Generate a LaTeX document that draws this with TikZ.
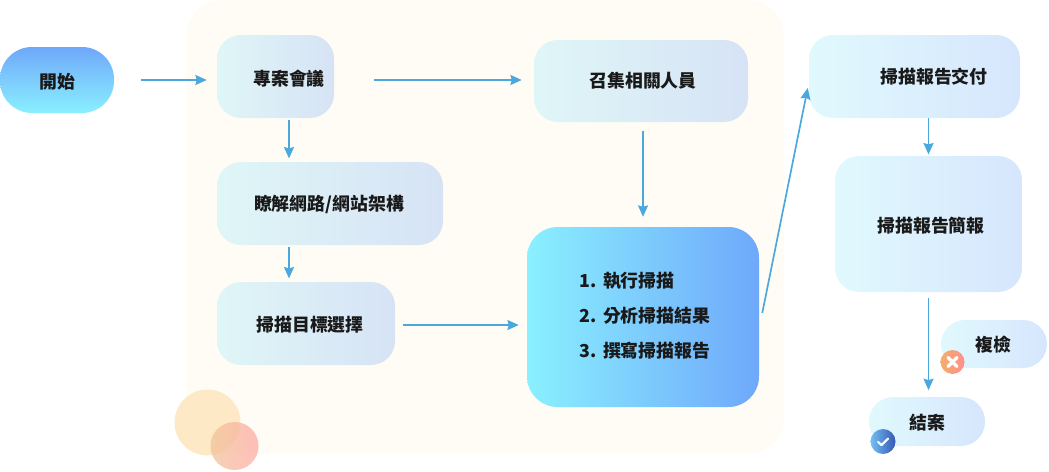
\documentclass[tikz,border=0pt]{standalone}
\usepackage{fontspec}
\setmainfont{Noto Sans CJK TC}
\usetikzlibrary{arrows.meta}
\definecolor{flowblue}{HTML}{4AA8DC}
\definecolor{panelcream}{HTML}{FFFCF5}
\definecolor{paleteal}{HTML}{DFF6F7}
\definecolor{paleslate}{HTML}{D6E3F5}
\definecolor{icecyan}{HTML}{E0F9FD}
\definecolor{iceblue}{HTML}{D6E6FD}
\definecolor{brightcyan}{HTML}{8AF0FF}
\definecolor{brightblue}{HTML}{6FA8FA}
\definecolor{discsand}{HTML}{FDE9C6}
\definecolor{discpeach}{HTML}{F0C49A}
\definecolor{discrose}{HTML}{FFA9A3}
\definecolor{crossorange}{HTML}{F4AE6C}
\definecolor{crosspink}{HTML}{FF8F8C}
\definecolor{checksky}{HTML}{72C0F4}
\definecolor{checknavy}{HTML}{3557B2}
\tikzset{
  boxsize/.style 2 args={minimum width=#1*0.75pt,minimum height=#2*0.75pt},
  softbox/.style={inner sep=0pt,rounded corners=18pt,left color=paleteal,right color=paleslate},
  icebox/.style={inner sep=0pt,rounded corners=18pt,left color=icecyan,right color=iceblue},
  boxtext/.style={font=\bfseries\fontsize{13.4}{15}\selectfont,text=black!90,inner sep=0pt},
  flow/.style={->,flowblue,line width=1.25pt},
}
\begin{document}
\begin{tikzpicture}[x=0.75pt,y=-0.75pt,>={Stealth[length=8.5pt,width=7.5pt,inset=1pt]}]
  \useasboundingbox (0,0) rectangle (1049,471);
  % cream panel and the two discs at its corner
  \fill[panelcream,rounded corners=27pt] (186,0) rectangle (784,454);
  \fill[discsand] (207.5,422.5) circle (33);
  \shade[left color=discpeach,right color=discrose,opacity=0.75] (234.5,446) circle (24);
  % boxes
  \node[inner sep=0pt,boxsize={114}{66},rounded corners=24pt,top color=brightblue,bottom color=brightcyan] (start) at (57,80) {};
  \node[softbox,boxsize={117}{83}] (meeting) at (275.5,76.5) {};
  \node[softbox,boxsize={214}{82}] (gather) at (641,81) {};
  \node[softbox,boxsize={226}{83}] (understand) at (330,203.5) {};
  \node[softbox,boxsize={178}{83}] (target) at (306,323.5) {};
  \node[inner sep=0pt,boxsize={232}{180},rounded corners=23pt,left color=brightcyan,right color=brightblue] (scan) at (643,317) {};
  \node[icebox,boxsize={211}{83}] (deliver) at (914.5,76.5) {};
  \node[icebox,boxsize={187}{136}] (brief) at (928.5,224) {};
  \node[icebox,boxsize={106}{48}] (recheck) at (994,344) {};
  \node[icebox,boxsize={116}{49}] (closing) at (927,421.5) {};
  % box texts
  \node[boxtext] (startlabel) at (57,82) {開始};
  \node[boxtext] (meetinglabel) at (289,79) {專案會議};
  \node[boxtext] (gatherlabel) at (643,81) {召集相關人員};
  \node[boxtext] (understandlabel) at (329,204) {瞭解網路/網站架構};
  \node[boxtext] (targetlabel) at (310,325) {掃描目標選擇};
  \node[boxtext] (deliverlabel) at (934,77) {掃描報告交付};
  \node[boxtext] (brieflabel) at (931,226) {掃描報告簡報};
  \node[boxtext] (rechecklabel) at (993,345) {複檢};
  \node[boxtext] (closinglabel) at (927,423) {結案};
  % numbered steps
  \foreach \y/\i/\t in {281/1/執行掃描, 316/2/分析掃描結果, 351/3/撰寫掃描報告}{
    \node[boxtext,anchor=west] (step\i) at (579,\y) {\i.\hspace{5pt}\t};
  }
  % connectors
  \draw[flow,shorten <=20pt,shorten >=7.5pt] (start.east) -- (start.east -| meeting.west);
  \draw[flow,shorten <=30pt,shorten >=9pt] (meeting.east |- start.east) -- (gather.west |- start.east);
  \draw[flow,shorten <=1.5pt,shorten >=2.5pt] (meeting.south -| meetinglabel) -- (understand.north -| meetinglabel);
  \draw[flow,shorten <=1.5pt,shorten >=2.5pt] (understand.south -| meetinglabel) -- (target.north -| meetinglabel);
  \draw[flow,shorten <=6pt,shorten >=6pt] (target.east |- targetlabel) -- (scan.west |- targetlabel);
  \draw[flow,shorten <=6.5pt,shorten >=7.5pt] (gather.south -| scan.north) -- (scan.north);
  \draw[flow] ([shift={(3,-4)}]scan.east) -- ([shift={(-1,11.5)}]deliver.west);
  \draw[flow,shorten >=1pt] (deliver.south -| brief.north) -- (brief.north);
  \draw[flow,shorten <=4.5pt,shorten >=5pt] (brief.south) -- (closing.north -| brief.south);
  % status badges
  \shade[left color=crossorange,right color=crosspink] (952.5,362) circle (12);
  \draw[white,line width=2.6pt,line cap=round] (948,357.5) -- (957,366.5) (957,357.5) -- (948,366.5);
  \shade[left color=checksky,right color=checknavy] (883,441.5) circle (12.5);
  \draw[white,line width=1.6pt,line cap=round,line join=round] (878,442) -- (881.5,445) -- (888,438.5);
\end{tikzpicture}
\end{document}
